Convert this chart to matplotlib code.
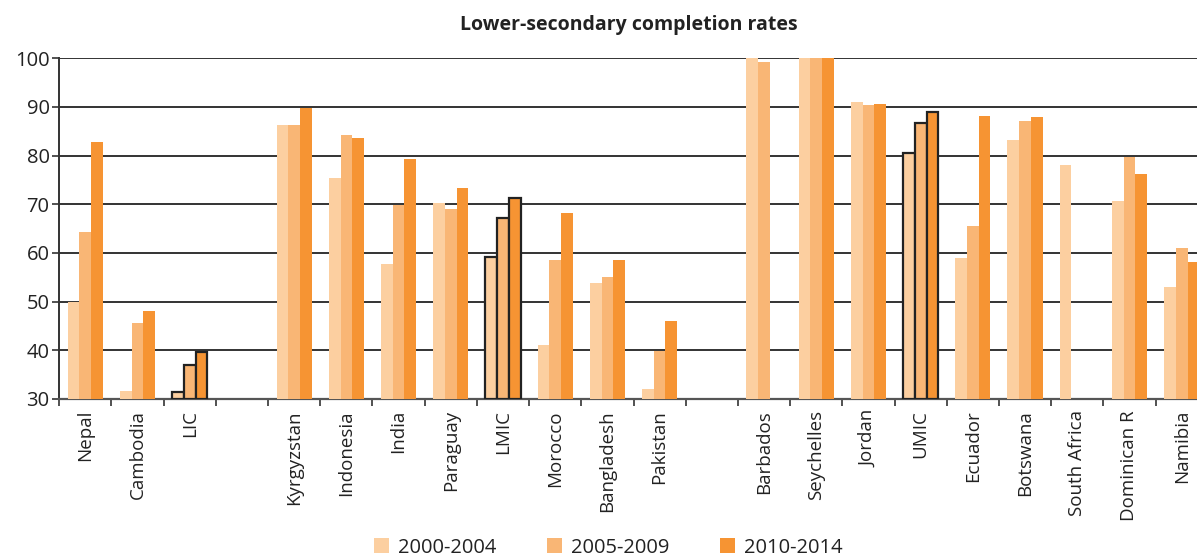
import numpy as np
import matplotlib.pyplot as plt
from matplotlib.patches import Patch

plt.rcParams['font.family'] = ['Open Sans', 'DejaVu Sans']

# categories; empty strings are the blank spacer slots between income groups
categories = ['Nepal', 'Cambodia', 'LIC', '',
              'Kyrgyzstan', 'Indonesia', 'India', 'Paraguay', 'LMIC', 'Morocco', 'Bangladesh', 'Pakistan', '',
              'Barbados', 'Seychelles', 'Jordan', 'UMIC', 'Ecuador', 'Botswana', 'South Africa', 'Dominican R', 'Namibia']
aggregates = ['LIC', 'LMIC', 'UMIC']

nan = np.nan
p2000 = [50.0, 31.6, 31.5, nan,
         86.2, 75.3, 57.7, 70.2, 59.2, 41.0, 53.8, 32.1, nan,
         100.0, 100.0, 91.0, 80.5, 59.0, 83.2, 78.1, 70.7, 53.1]
p2005 = [64.4, 45.7, 37.0, nan,
         86.2, 84.3, 69.9, 69.0, 67.2, 58.6, 55.1, 39.8, nan,
         99.2, 100.0, 90.3, 86.6, 65.5, 87.1, nan, 79.7, 61.0]
p2010 = [82.7, 48.0, 39.7, nan,
         89.8, 83.6, 79.2, 73.4, 71.3, 68.3, 58.6, 46.0, nan,
         nan, 100.0, 90.6, 89.0, 88.2, 87.9, nan, 76.2, 58.2]

periods = ['2000-2004', '2005-2009', '2010-2014']
colors = ['#FCCFA0', '#F9B675', '#F69433']

fig = plt.figure(figsize=(11.97, 5.6), dpi=100)
ax = fig.add_axes([0.0495, 0.2875, 0.9595, 0.6085])

x = np.arange(len(categories))
w = 0.225
for i, (vals, c) in enumerate(zip([p2000, p2005, p2010], colors)):
    vals = np.array(vals)
    heights = vals - 30
    edge = ['#222222' if cat in aggregates else 'none' for cat in categories]
    lw = [1.6 if cat in aggregates else 0 for cat in categories]
    ax.bar(x + (i - 1) * w, heights, w, bottom=30, color=c,
           edgecolor=edge, linewidth=lw, zorder=3)

ax.set_ylim(30, 100)
ax.set_xlim(-0.5, len(categories) - 0.5)
ax.set_yticks(range(30, 101, 10))
ax.yaxis.grid(True, color='#333333', linewidth=1.4, zorder=0)
ax.set_axisbelow(True)
ax.tick_params(axis='y', labelsize=14.5, length=5, width=1.2, color='#333333', labelcolor='#222222', pad=2)

ax.set_xticks(x)
ax.set_xticklabels(categories, rotation=90, fontsize=13.5, color='#222222')
ax.tick_params(axis='x', which='major', length=0, pad=8)
ax.set_xticks(np.arange(-0.5, len(categories) + 0.5, 1), minor=True)
ax.tick_params(axis='x', which='minor', length=5, width=1.2, color='#333333')

for side in ['top', 'right']:
    ax.spines[side].set_visible(False)
ax.spines['left'].set_color('#333333')
ax.spines['left'].set_linewidth(1.4)
ax.spines['bottom'].set_color('#555555')
ax.spines['bottom'].set_linewidth(1.6)

fig.text(0.525, 0.955, 'Lower-secondary completion rates', ha='center', va='center',
         fontsize=14, fontweight='bold', color='#222222')

handles = [Patch(facecolor=c, edgecolor='none') for c in colors]
fig.legend(handles, periods, loc='center', bbox_to_anchor=(0.508, 0.022), ncol=3,
           frameon=False, fontsize=14.5, handlelength=0.75, handleheight=0.75,
           handletextpad=0.45, columnspacing=2.5, labelcolor='#222222',
           borderpad=0.1)

fig.savefig('out.png', dpi=100)
